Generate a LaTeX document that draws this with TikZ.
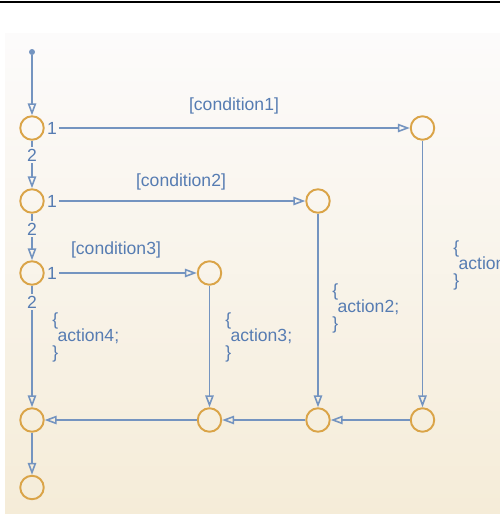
\documentclass[tikz,border=0pt]{standalone}
\usepackage{fontspec}
\setmainfont{Liberation Sans}
\usepackage{tikz}
\usetikzlibrary{arrows.meta,positioning}
\definecolor{azulLinea}{RGB}{116,148,192}
\definecolor{azulTexto}{RGB}{86,124,178}
\definecolor{naranjaJunta}{RGB}{218,164,72}
\definecolor{fondoArriba}{RGB}{252,251,251}
\definecolor{fondoMedio}{RGB}{250,243,233}
\definecolor{fondoAbajo}{RGB}{245,236,216}

\begin{document}
\begin{tikzpicture}[x=0.02cm, y=-0.02cm,
  junta/.style={circle, draw=naranjaJunta, line width=1.1pt,
    minimum size=0.47cm, inner sep=0pt},
  linea/.style={draw=azulLinea, line width=0.9pt},
  flecha/.style={linea, -{Triangle[open, length=0.24cm, width=0.17cm]}},
  etiqueta/.style={font=\fontsize{10}{10}\selectfont, text=azulTexto,
    inner sep=1pt},
  accion/.style={etiqueta, align=left, anchor=north west, inner sep=0pt,
    font=\fontsize{10}{9.6}\selectfont}]
  \useasboundingbox (0,0) rectangle (500,514);
  % Frame and background
  \draw[line width=1.4pt] (0,2.2) -- (500,2.2);
  \shade[top color=fondoArriba, middle color=fondoMedio,
    bottom color=fondoAbajo] (5,33) rectangle (500,514);
  % Default transition
  \node[circle, fill=azulLinea, minimum size=0.12cm, inner sep=0pt]
    (inicio) at (32,52) {};
  % Left column of junctions
  \node[junta] (ja) at (32,128) {};
  \node[junta] (jb) at (32,201) {};
  \node[junta] (jc) at (32,273) {};
  \node[junta] (jd) at (32,420) {};
  \node[junta] (je) at (32,487.5) {};
  % Right junctions
  \node[junta] (ra) at (422.5,128) {};
  \node[junta] (rb) at (318,201) {};
  \node[junta] (rc) at (209.5,273) {};
  % Bottom row
  \node[junta] (bb) at (209.5,420) {};
  \node[junta] (bc) at (318,420) {};
  \node[junta] (bd) at (422.5,420) {};
  % Execution order labels
  \node[etiqueta] (unoA) at (52,128) {1};
  \node[etiqueta] (unoB) at (52,201) {1};
  \node[etiqueta] (unoC) at (52,273) {1};
  \node[etiqueta] (dosA) at (32,155) {2};
  \node[etiqueta] (dosB) at (32,229) {2};
  \node[etiqueta] (dosC) at (32,302) {2};
  % Conditions
  \node[etiqueta] (condA) at (234,106) {[condition1]};
  \node[etiqueta] (condB) at (181,182) {[condition2]};
  \node[etiqueta] (condC) at (116,250) {[condition3]};
  % Actions
  \node[accion] (accA) at (453,240) {\{\\\hspace{3pt}action1;\\\}};
  \node[accion] (accB) at (332,283) {\{\\\hspace{3pt}action2;\\\}};
  \node[accion] (accC) at (225,312) {\{\\\hspace{3pt}action3;\\\}};
  \node[accion] (accD) at (52,312) {\{\\\hspace{3pt}action4;\\\}};
  % Transitions
  \draw[flecha] (inicio) -- (ja);
  \draw[linea] (ja) -- (dosA);
  \draw[flecha] (dosA) -- (jb);
  \draw[linea] (jb) -- (dosB);
  \draw[flecha] (dosB) -- (jc);
  \draw[linea] (jc) -- (dosC);
  \draw[flecha] (dosC) -- (jd);
  \draw[flecha] (unoA) -- (ra);
  \draw[flecha] (unoB) -- (rb);
  \draw[flecha] (unoC) -- (rc);
  \draw[flecha] (ra) -- (bd);
  \draw[flecha] (rb) -- (bc);
  \draw[flecha] (rc) -- (bb);
  \draw[flecha] (bd) -- (bc);
  \draw[flecha] (bc) -- (bb);
  \draw[flecha] (bb) -- (jd);
  \draw[flecha] (jd) -- (je);
\end{tikzpicture}
\end{document}
